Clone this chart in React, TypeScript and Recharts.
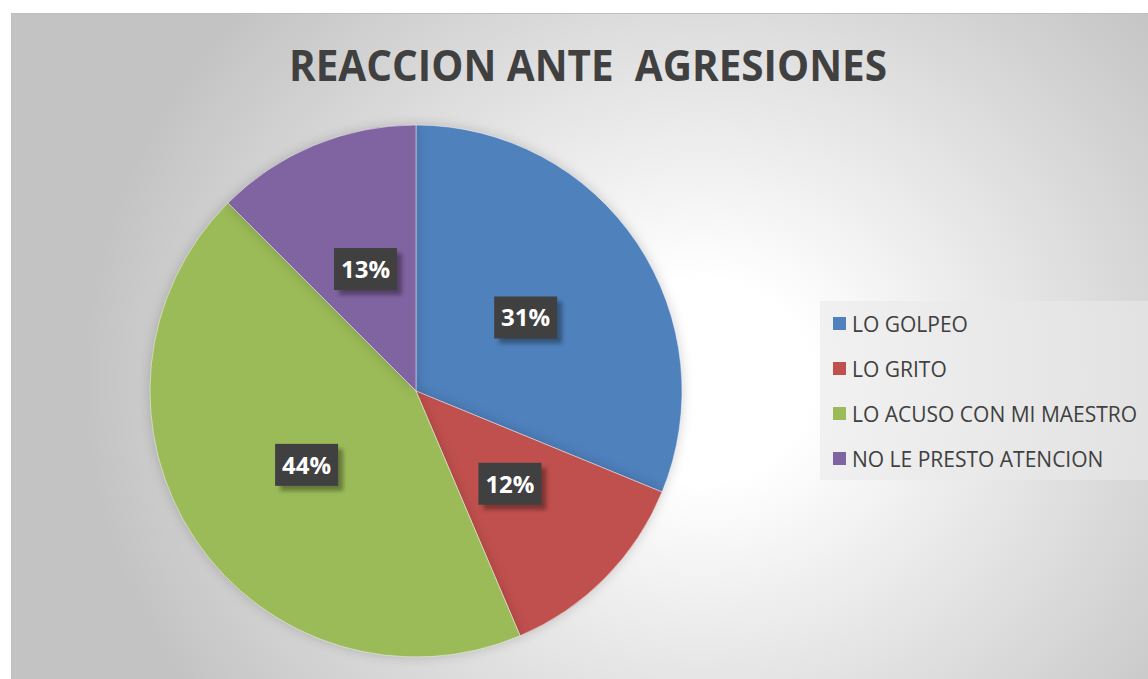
import { PieChart, Pie, Cell, Legend } from 'recharts'

const categories = ['LO GOLPEO', 'LO GRITO', 'LO ACUSO CON MI MAESTRO', 'NO LE PRESTO ATENCION']
const values = [31.2, 12.4, 43.9, 12.5]
const COLORS = ['#4F81BD', '#C0504D', '#9BBB59', '#8064A2']

const data = categories.map((name, i) => ({ name, value: values[i] }))

const RAD = Math.PI / 180
const FONT = '"Open Sans", "Noto Sans", sans-serif'

// dark data label boxes like the Excel original
const renderLabel = (props: any) => {
  const { cx, cy, midAngle, percent } = props
  const r = 132
  const x = cx + r * Math.cos(-midAngle * RAD)
  const y = cy + r * Math.sin(-midAngle * RAD)
  const w = 63
  const h = 42
  return (
    <g>
      <rect x={x - w / 2 + 5} y={y - h / 2 + 5} width={w} height={h} fill="rgba(0,0,0,0.35)" filter="url(#lblShadow)" />
      <rect x={x - w / 2} y={y - h / 2} width={w} height={h} fill="#404040" />
      <text x={x} y={y + 9} textAnchor="middle" fill="#ffffff" fontFamily={FONT} fontWeight={700} fontSize={24}>
        {`${Math.round(percent * 100)}%`}
      </text>
    </g>
  )
}

const renderLegend = () => (
  <div style={{ width: 330, height: 179, background: 'rgba(234,234,234,0.6)', boxSizing: 'border-box', paddingTop: 0, paddingLeft: 13 }}>
    {categories.map((c, i) => (
      <div key={c} style={{ display: 'flex', alignItems: 'center', height: 45, fontFamily: FONT, fontSize: 21, color: '#404040' }}>
        <span style={{ width: 13, height: 13, background: COLORS[i], marginRight: 6, display: 'inline-block' }} />
        <span>{c}</span>
      </div>
    ))}
  </div>
)

export default function App() {
  return (
    <div style={{ position: 'absolute', left: 0, top: 0, width: 1148, height: 679, background: '#ffffff', overflow: 'hidden' }}>
      <div
        style={{
          position: 'absolute',
          left: 11,
          top: 13,
          width: 1150,
          height: 680,
          borderTop: '1px solid #bfbfbf',
          borderLeft: '1px solid #bfbfbf',
          background: 'radial-gradient(ellipse 620px 560px at 689px 367px, #ffffff 0%, #ffffff 18%, #c3c3c3 100%)',
        }}
      />
      <style>{`.pie-glow .recharts-pie-sector { filter: drop-shadow(0 0 6px rgba(0,0,0,0.18)); }`}</style>
      <div style={{ position: 'absolute', left: 0, top: 0 }} className="pie-glow">
        <PieChart width={1148} height={679} margin={{ top: 0, right: 0, bottom: 0, left: 0 }}>
          <defs>
            <filter id="lblShadow" x="-20%" y="-20%" width="140%" height="140%">
              <feGaussianBlur stdDeviation="2" />
            </filter>
          </defs>
          <text
            x={588}
            y={81}
            textAnchor="middle"
            fill="#404040"
            fontFamily={FONT}
            fontWeight={700}
            fontSize={43}
            textLength={598}
            lengthAdjust="spacingAndGlyphs"
            style={{ whiteSpace: 'pre' }}
          >
            REACCION ANTE  AGRESIONES
          </text>
          <Pie
            data={data}
            dataKey="value"
            nameKey="name"
            cx={416}
            cy={391}
            outerRadius={266}
            startAngle={90}
            endAngle={-270}
            stroke="rgba(255,255,255,0.45)"
            strokeWidth={1}
            labelLine={false}
            label={renderLabel}
            isAnimationActive={false}
          >
            {data.map((entry, index) => (
              <Cell key={`cell-${index}`} fill={COLORS[index]} />
            ))}
          </Pie>
          <Legend
            content={renderLegend}
            wrapperStyle={{ position: 'absolute', left: 820, top: 301, width: 330, height: 179 }}
          />
        </PieChart>
      </div>
    </div>
  )
}
